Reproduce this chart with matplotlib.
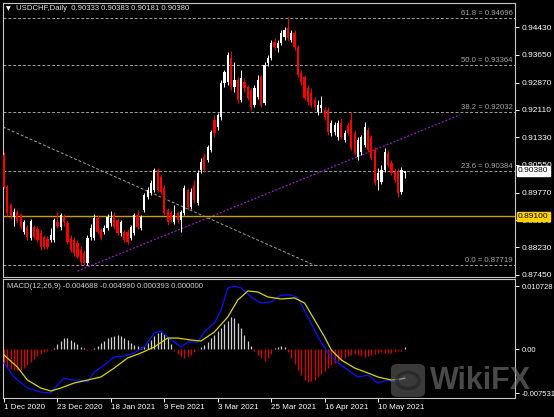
import numpy as np
import matplotlib.pyplot as plt
from matplotlib.patches import FancyBboxPatch, Circle
import matplotlib.transforms as mtransforms

plt.rcParams['font.family'] = ['Liberation Sans', 'DejaVu Sans']

# --- daily candles USDCHF, 1 Dec 2020 .. 20 May 2021 ---
opens = [0.9083, 0.8993, 0.8942, 0.8908, 0.8922, 0.8914, 0.8866, 0.8880, 0.8849, 0.8880,
         0.8875, 0.8863, 0.8852, 0.8846, 0.8844, 0.8844, 0.8894, 0.8880, 0.8911, 0.8891,
         0.8849, 0.8844, 0.8835, 0.8815, 0.8807, 0.8779, 0.8852, 0.8849, 0.8905, 0.8872,
         0.8866, 0.8877, 0.8891, 0.8914, 0.8900, 0.8863, 0.8866, 0.8866, 0.8849, 0.8863,
         0.8914, 0.8877, 0.8928, 0.8965, 0.8976, 0.8985, 0.9041, 0.9021, 0.8990, 0.8928,
         0.8920, 0.8894, 0.8920, 0.8900, 0.8920, 0.8985, 0.8937, 0.8999, 0.8948, 0.9041,
         0.9078, 0.9069, 0.9097, 0.9182, 0.9162, 0.9190, 0.9286, 0.9289, 0.9356, 0.9275,
         0.9294, 0.9238, 0.9289, 0.9275, 0.9266, 0.9224, 0.9247, 0.9303, 0.9230, 0.9342,
         0.9356, 0.9402, 0.9385, 0.9399, 0.9416, 0.9440, 0.9407, 0.9427, 0.9387, 0.9314,
         0.9303, 0.9272, 0.9258, 0.9238, 0.9204, 0.9216, 0.9210, 0.9210, 0.9145, 0.9148,
         0.9134, 0.9173, 0.9125, 0.9168, 0.9182, 0.9145, 0.9078, 0.9092, 0.9111, 0.9154,
         0.9134, 0.9097, 0.9013, 0.9007, 0.9041, 0.9089, 0.9061, 0.9035, 0.9035, 0.8979,
         0.90333]
highs = [0.9092, 0.8999, 0.8948, 0.8934, 0.8928, 0.8920, 0.8900, 0.8886, 0.8903, 0.8886,
         0.8883, 0.8872, 0.8858, 0.8855, 0.8877, 0.8905, 0.8922, 0.8920, 0.8917, 0.8900,
         0.8858, 0.8852, 0.8844, 0.8827, 0.8815, 0.8858, 0.8889, 0.8917, 0.8914, 0.8877,
         0.8886, 0.8917, 0.8925, 0.8922, 0.8905, 0.8900, 0.8872, 0.8875, 0.8886, 0.8920,
         0.8928, 0.8914, 0.8976, 0.8993, 0.9013, 0.9047, 0.9047, 0.9027, 0.8999, 0.8934,
         0.8925, 0.8942, 0.8925, 0.8928, 0.8999, 0.8990, 0.8990, 0.9013, 0.9041, 0.9075,
         0.9089, 0.9111, 0.9154, 0.9196, 0.9201, 0.9294, 0.9323, 0.9373, 0.9376, 0.9345,
         0.9303, 0.9323, 0.9300, 0.9280, 0.9272, 0.9280, 0.9309, 0.9309, 0.9345, 0.9365,
         0.9407, 0.9413, 0.9407, 0.9435, 0.9444, 0.9472, 0.9435, 0.9435, 0.9393, 0.9323,
         0.9309, 0.9280, 0.9272, 0.9247, 0.9238, 0.9249, 0.9218, 0.9218, 0.9182, 0.9176,
         0.9182, 0.9187, 0.9154, 0.9176, 0.9204, 0.9154, 0.9134, 0.9140, 0.9176, 0.9162,
         0.9140, 0.9106, 0.9047, 0.9055, 0.9103, 0.9097, 0.9069, 0.9047, 0.9047, 0.9049,
         0.90383]
lows = [0.8990, 0.8911, 0.8903, 0.8883, 0.8891, 0.8875, 0.8860, 0.8844, 0.8844, 0.8846,
        0.8838, 0.8815, 0.8818, 0.8818, 0.8838, 0.8838, 0.8877, 0.8872, 0.8883, 0.8832,
        0.8810, 0.8798, 0.8793, 0.8773, 0.8772, 0.8773, 0.8844, 0.8844, 0.8860, 0.8844,
        0.8860, 0.8872, 0.8883, 0.8875, 0.8858, 0.8855, 0.8838, 0.8832, 0.8844, 0.8858,
        0.8875, 0.8872, 0.8922, 0.8959, 0.8970, 0.8979, 0.8979, 0.8973, 0.8914, 0.8886,
        0.8894, 0.8889, 0.8891, 0.8866, 0.8914, 0.8928, 0.8931, 0.8948, 0.8942, 0.9032,
        0.9035, 0.9063, 0.9092, 0.9134, 0.9154, 0.9182, 0.9275, 0.9280, 0.9266, 0.9261,
        0.9230, 0.9233, 0.9261, 0.9238, 0.9210, 0.9218, 0.9241, 0.9218, 0.9224, 0.9334,
        0.9351, 0.9379, 0.9373, 0.9393, 0.9407, 0.9405, 0.9402, 0.9379, 0.9303, 0.9280,
        0.9238, 0.9224, 0.9218, 0.9210, 0.9196, 0.9204, 0.9182, 0.9140, 0.9137, 0.9140,
        0.9125, 0.9128, 0.9120, 0.9140, 0.9097, 0.9083, 0.9069, 0.9083, 0.9106, 0.9092,
        0.9069, 0.8999, 0.8985, 0.9002, 0.9035, 0.9049, 0.9027, 0.9007, 0.8965, 0.8973,
        0.90181]
closes = [0.8993, 0.8920, 0.8911, 0.8922, 0.8897, 0.8880, 0.8894, 0.8852, 0.8897, 0.8852,
          0.8844, 0.8824, 0.8824, 0.8824, 0.8858, 0.8900, 0.8883, 0.8914, 0.8894, 0.8838,
          0.8815, 0.8807, 0.8796, 0.8782, 0.8779, 0.8849, 0.8877, 0.8905, 0.8866, 0.8849,
          0.8877, 0.8908, 0.8905, 0.8880, 0.8863, 0.8894, 0.8844, 0.8838, 0.8880, 0.8914,
          0.8880, 0.8908, 0.8970, 0.8985, 0.9004, 0.9041, 0.8985, 0.8979, 0.8920, 0.8894,
          0.8900, 0.8914, 0.8900, 0.8922, 0.8990, 0.8937, 0.8979, 0.8956, 0.9032, 0.9063,
          0.9041, 0.9106, 0.9148, 0.9145, 0.9196, 0.9286, 0.9317, 0.9365, 0.9275, 0.9294,
          0.9238, 0.9300, 0.9272, 0.9244, 0.9218, 0.9272, 0.9294, 0.9224, 0.9337, 0.9356,
          0.9399, 0.9387, 0.9399, 0.9427, 0.9435, 0.9413, 0.9427, 0.9387, 0.9309, 0.9289,
          0.9244, 0.9233, 0.9224, 0.9218, 0.9224, 0.9224, 0.9190, 0.9148, 0.9173, 0.9168,
          0.9173, 0.9134, 0.9145, 0.9145, 0.9103, 0.9089, 0.9125, 0.9134, 0.9162, 0.9097,
          0.9075, 0.9004, 0.9032, 0.9041, 0.9092, 0.9055, 0.9032, 0.9013, 0.8976, 0.9041,
          0.90380]

date_ticks = [0, 16, 32, 48, 64, 80, 96, 112]
date_labels = ['1 Dec 2020', '23 Dec 2020', '18 Jan 2021', '9 Feb 2021',
               '3 Mar 2021', '25 Mar 2021', '16 Apr 2021', '10 May 2021']
price_ticks = [0.94430, 0.93650, 0.92870, 0.92110, 0.91330, 0.90550,
               0.89770, 0.88990, 0.88230, 0.87450]

fib_levels = [0.94696, 0.93364, 0.92032, 0.90384, 0.87719]
fib_names = ['61.8', '50.0', '38.2', '23.6', '0.0']
fib_line_x = [-0.3, 93.1]          # diagonal anchor line of the fibo tool
fib_line_y = [0.9162, 0.87719]
trend_x = [22.0, 136.5]            # purple trend line
trend_y = [0.8756, 0.9196]
support = 0.89100
last_price = 0.90380

# MACD (read at selected bars)
macd_idx = [0, 3, 7, 11, 14, 16, 18, 20, 23, 25, 27, 30, 33, 36, 39, 42, 45, 47, 49, 51,
            53, 55, 58, 60, 63, 65, 67, 69, 71, 74, 77, 80, 83, 86, 88, 91, 94, 97, 100,
            103, 106, 109, 112, 115, 118, 120]
macd_main = [-0.00238, -0.00477, -0.00664, -0.00732, -0.00749, -0.00613, -0.00494, -0.00528,
             -0.00528, -0.00562, -0.00392, -0.00272, -0.00136, -0.00119, -0.00068, 0.00034,
             0.00272, 0.00307, 0.00204, 0.00119, 0.00034, 0.00119, 0.00119, 0.00290, 0.00443,
             0.00664, 0.01039, 0.01073, 0.01039, 0.00886, 0.00783, 0.00800, 0.00920, 0.00920,
             0.00869, 0.00545, 0.00204, -0.00068, -0.00238, -0.00358, -0.00477, -0.00443,
             -0.00579, -0.00528, -0.00562, -0.004688]
sig_idx = [0, 4, 7, 11, 14, 17, 21, 25, 29, 33, 37, 41, 45, 49, 52, 56, 59, 63, 67, 70, 73,
           76, 79, 83, 87, 90, 93, 96, 98, 101, 105, 109, 112, 116, 120]
macd_signal = [-0.00102, -0.00307, -0.00528, -0.00664, -0.00715, -0.00664, -0.00579, -0.00528,
               -0.00477, -0.00324, -0.00153, -0.00068, 0.00034, 0.00187, 0.00187, 0.00153,
               0.00136, 0.00290, 0.00545, 0.00834, 0.00988, 0.00971, 0.00886, 0.00852, 0.00869,
               0.00783, 0.00494, 0.00204, -0.00017, -0.00187, -0.00324, -0.00409, -0.00477,
               -0.00528, -0.004990]
hist_e4 = [-25, -30, -34, -36, -36, -35, -33, -28, -22, -17,
           -12, -8, -5, -3, -1, 2, 8, 14, 18, 19,
           16, 12, 8, 4, 1, -1, -2, 1, 5, 10,
           14, 18, 21, 23, 24, 22, 19, 15, 11, 7,
           5, 4, 5, 10, 16, 22, 28, 29, 25, 18,
           8, -3, -8, -12, -15, -14, -10, -5, -1, 3,
           7, 12, 18, 24, 30, 36, 42, 48, 55, 52,
           45, 35, 24, 14, 5, -3, -10, -16, -20, -15,
           -8, 2, 4, 5, 3, -5, -15, -25, -35, -45,
           -52, -56, -55, -52, -48, -43, -38, -33, -28, -24,
           -21, -18, -15, -12, -10, -9, -10, -12, -14, -12,
           -10, -8, -6, -5, -6, -7, -6, -5, -4, -3,
           4]

W, H = 554, 417
fig = plt.figure(figsize=(W / 100, H / 100), dpi=100, facecolor='black')
ax = fig.add_axes([3 / W, 1 - 277 / H, 512 / W, 274 / H], facecolor='black')
axm = fig.add_axes([3 / W, 1 - 398 / H, 512 / W, 119 / H], facecolor='black')

for a in (ax, axm):
    a.set_xlim(-0.3, 153.0)
    for s in a.spines.values():
        s.set_color('#c8c8c8')
        s.set_linewidth(0.8)

ax.set_ylim(0.87393, 0.95114)
axm.set_ylim(-0.00834, 0.01192)

# candles
x = np.arange(len(closes))
o, h, l, c = map(np.array, (opens, highs, lows, closes))
up = c >= o
cols = np.where(up, '#ffffff', '#ff0000')
ax.vlines(x, l, h, colors=cols, linewidth=0.7, zorder=3)
body = np.maximum(np.abs(c - o), 0.00008)
ax.bar(x, body, bottom=np.minimum(o, c), width=0.66, color=cols, linewidth=0, zorder=4)

# fibo levels
bt = mtransforms.blended_transform_factory(ax.transAxes, ax.transData)
for lv, nm in zip(fib_levels, fib_names):
    ax.axhline(lv, color='#a0a0a0', linewidth=0.7, linestyle=(0, (3, 2)), zorder=2)
    ax.text(0.995, lv + 0.0003, '%s = %.5f' % (nm, lv), transform=bt,
            ha='right', va='bottom', color='#a8a8a8', fontsize=5.6, zorder=5)
ax.plot(fib_line_x, fib_line_y, color='#a0a0a0', linewidth=0.7, linestyle=(0, (3, 2)), zorder=2)
ax.plot(trend_x, trend_y, color='#9a1fd0', linewidth=0.9, linestyle=(0, (1.5, 1.5)), zorder=2)
ax.axhline(support, color='#c8a000', linewidth=1.0, zorder=2)

# right price axis
ax.yaxis.tick_right()
ax.set_yticks(price_ticks)
ax.set_yticklabels(['%.5f' % p for p in price_ticks])
ax.tick_params(axis='y', colors='#ffffff', labelsize=6.0, length=3, width=0.7, pad=2)
ax.tick_params(axis='x', bottom=False, labelbottom=False)

ax.text(1.006, support, '%.5f' % support, transform=bt, ha='left', va='center', fontsize=6.0,
        color='black', zorder=6, clip_on=False,
        bbox=dict(boxstyle='square,pad=0.15', fc='#ffd200', ec='#ffd200'))
ax.text(1.006, last_price, '%.5f' % last_price, transform=bt, ha='left', va='center', fontsize=6.0,
        color='black', zorder=6, clip_on=False,
        bbox=dict(boxstyle='square,pad=0.15', fc='#ffffff', ec='#ffffff'))

# MACD panel
hist = np.array(hist_e4) * 1e-4
hcols = np.where(hist >= 0, '#d0d0d0', '#e00000')
axm.vlines(x, 0, hist, colors=hcols, linewidth=0.9, zorder=2)
axm.plot(macd_idx, macd_main, color='#1010ff', linewidth=0.9, zorder=3)
axm.plot(sig_idx, macd_signal, color='#d8d800', linewidth=0.9, zorder=3)

axm.yaxis.tick_right()
axm.set_yticks([0.010728, 0.0, -0.007531])
axm.set_yticklabels(['0.010728', '0.00', '-0.007531'])
axm.tick_params(axis='y', colors='#ffffff', labelsize=5.5, length=3, width=0.7, pad=1.5)
axm.set_xticks(date_ticks)
axm.set_xticklabels(date_labels, ha='left')
axm.tick_params(axis='x', colors='#ffffff', labelsize=5.8, length=3, width=0.7, pad=1.5)

fig.text(6 / W, 1 - 9 / H, '\u25bc', color='white', fontsize=4.5, va='center', family='DejaVu Sans')
fig.text(16 / W, 1 - 9 / H, 'USDCHF,Daily  0.90333 0.90383 0.90181 0.90380', color='#e0e0e0',
         fontsize=5.6, va='center')
fig.text(7 / W, 1 - 287 / H, 'MACD(12,26,9) -0.004688 -0.004990 0.000393 0.000000', color='#d0d0d0',
         fontsize=5.6, va='center')

# watermark
icon = FancyBboxPatch((391 / W, 1 - 397 / H), 34 / W, 33 / H, boxstyle='round,pad=0,rounding_size=0.012',
                      transform=fig.transFigure, fc='#6a6a6a', ec='none', alpha=0.55, zorder=10)
fig.patches.append(icon)
fig.patches.append(Circle((408 / W, 1 - 380.5 / H), 11 / W, transform=fig.transFigure, fc='none',
                          ec='#202020', lw=2.5, alpha=0.6, zorder=11))
fig.text(430 / W, 1 - 381 / H, 'WikiFX', color='#7a7a7a', alpha=0.6, fontsize=22, fontweight='bold',
         va='center', ha='left', zorder=12)

fig.savefig('out.png', dpi=100, facecolor='black')
